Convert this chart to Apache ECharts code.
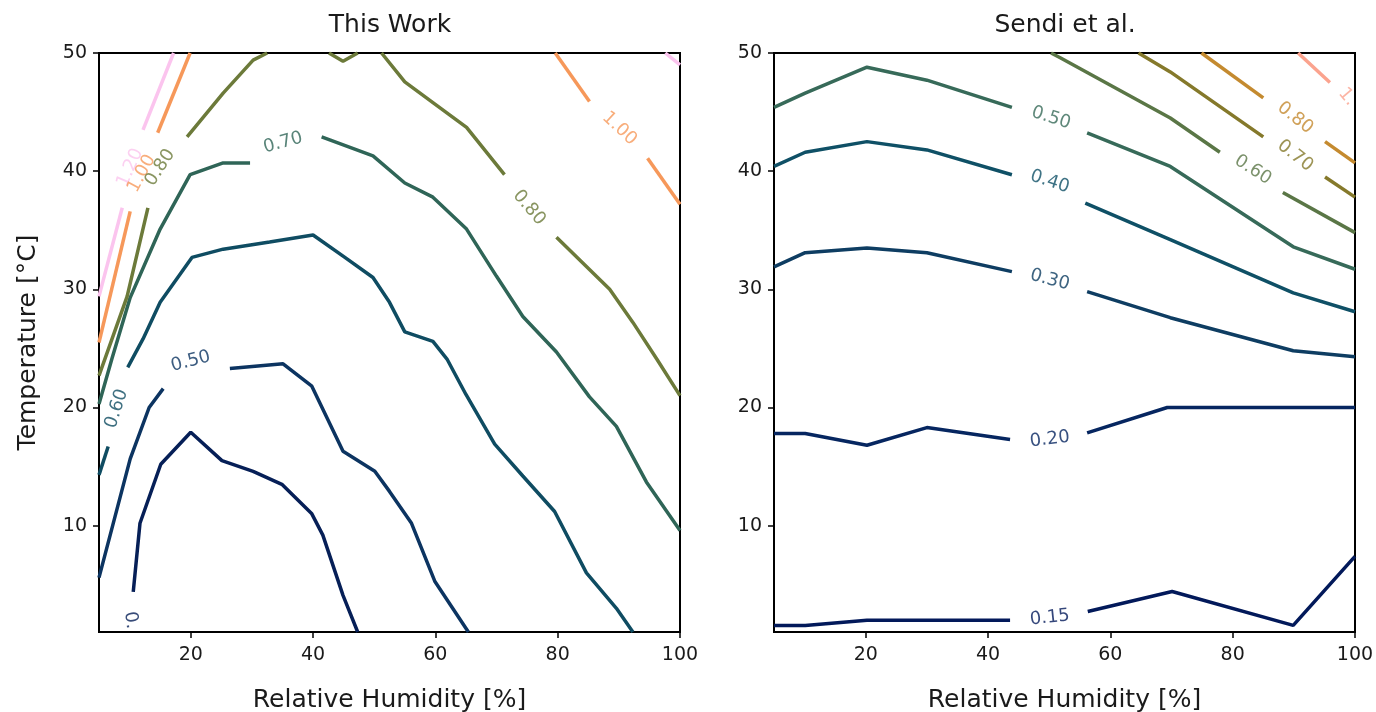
<!DOCTYPE html>
<html><head><meta charset="utf-8">
<script src="https://cdn.jsdelivr.net/npm/echarts@6/dist/echarts.min.js"></script>
<style>html,body{margin:0;padding:0;background:#fff}#c{width:1376px;height:712px}</style>
</head><body><div id="c"></div>
<script>
// ---- axes ----
const xTicks = [20, 40, 60, 80, 100];
const yTicks = [10, 20, 30, 40, 50];
const titles = ['This Work', 'Sendi et al.'];

// ---- "This Work" contour segments ([RH %, T °C]) ----
const tw040 = [
  [[10.6,4.4],[11.7,10.2],[15.1,15.2],[20.0,17.9],[25.1,15.5],[30.2,14.6],[34.9,13.5],[39.8,11.0],[41.6,9.2],[44.9,4.1],[47.3,1.0]]
];
const tw050 = [
  [[5,5.6],[10.1,15.65],[13.2,20.0],[15.5,21.6]],
  [[26.4,23.3],[35.1,23.7],[39.8,21.8],[44.9,16.3],[50.1,14.6],[52.5,12.9],[56.1,10.2],[59.9,5.3],[65.4,1.0]]
];
const tw060 = [
  [[5,14.3],[6.5,16.7]],
  [[9.7,23.4],[12.2,25.8],[15.0,28.9],[20.2,32.7],[25.3,33.4],[32.9,34.0],[40.0,34.6],[45.2,32.7],[49.8,31.0],[52.5,28.9],[55.0,26.4],[59.6,25.6],[61.9,24.1],[65.0,21.1],[69.7,16.9],[74.3,14.2],[79.5,11.2],[84.7,6.0],[89.6,3.0],[92.3,1.0]]
];
const tw070 = [
  [[5,20.3],[7.1,24.1],[10.1,29.3],[15.0,35.1],[19.9,39.7],[25.3,40.7],[29.7,40.7]],
  [[41.4,42.9],[49.8,41.3],[55.0,39.0],[59.6,37.8],[65.1,35.1],[70.0,31.1],[74.3,27.7],[79.8,24.7],[85.2,20.9],[89.6,18.4],[94.5,13.7],[100,9.6]]
];
const tw080 = [
  [[5,22.7],[9.6,29.4],[13.0,36.9]],
  [[19.4,42.9],[25.3,46.6],[30.2,49.4],[32.5,50]],
  [[42.6,50],[44.9,49.3],[47.3,50]],
  [[51.2,50],[55.0,47.55],[59.6,45.8],[65.1,43.7],[71.3,39.7]],
  [[79.8,34.4],[88.5,30.0],[92.3,27.2],[96.2,24.1],[100,21.0]]
];
const tw100 = [
  [[5,25.5],[10.1,36.6]],
  [[14.6,43.25],[19.9,50]],
  [[79.6,50],[85.2,45.9]],
  [[94.7,41.1],[100,37.2]]
];
const tw120 = [
  [[5,29.4],[8.8,36.9]],
  [[12.2,43.5],[17.2,50]],
  [[97.6,50],[100,49.0]]
];

// ---- "Sendi et al." contour segments ----
const se015 = [
  [[5,1.56],[10.1,1.56],[20.2,2.0],[43.6,2.0]],
  [[56.3,2.74],[70.1,4.43],[89.9,1.56],[100,7.4]]
];
const se020 = [
  [[5,17.8],[10.1,17.8],[20.2,16.8],[30.0,18.3],[43.6,17.3]],
  [[56.2,17.85],[69.3,20.0],[100,20.0]]
];
const se030 = [
  [[5,31.9],[10.1,33.1],[20.2,33.5],[30.0,33.1],[43.9,31.5]],
  [[56.2,29.8],[69.8,27.6],[89.9,24.8],[100,24.3]]
];
const se040 = [
  [[5,40.4],[10.1,41.6],[20.2,42.5],[30.0,41.8],[43.9,39.7]],
  [[55.9,37.3],[69.8,34.2],[89.9,29.7],[100,28.1]]
];
const se050 = [
  [[5,45.4],[10.1,46.6],[20.2,48.8],[30.0,47.7],[43.9,45.4]],
  [[56.2,43.25],[69.8,40.4],[89.9,33.6],[100,31.7]]
];
const se060 = [
  [[50.3,50],[51.8,49.6],[69.8,44.5],[77.9,41.6]],
  [[88.2,38.2],[100,34.8]]
];
const se070 = [
  [[64.6,50],[69.8,48.4],[85.0,42.9]],
  [[95.1,39.5],[100,37.8]]
];
const se080 = [
  [[74.9,50],[85.0,46.2]],
  [[95.1,42.5],[100,40.7]]
];
const se100 = [
  [[90.7,50],[95.9,47.5]]
];

// ---- inline contour labels: [RH, T, text] ----
const twLabels = [
  [10.1,40.3,'1.20'],[12.0,39.8,'1.00'],[15.0,40.3,'0.80'],[35.1,42.4,'0.70'],
  [7.9,19.9,'0.60'],[20.0,23.9,'0.50'],[10.2,2.0,'0.'],[90.1,43.6,'1.00'],[75.3,36.9,'0.80']
];
const seLabels = [
  [50.3,44.5,'0.50'],[50.1,39.1,'0.40'],[50.1,30.8,'0.30'],[50.1,17.3,'0.20'],[50.1,2.2,'0.15'],
  [83.3,40.1,'0.60'],[90.2,41.3,'0.70'],[90.2,44.5,'0.80'],[98.7,46.3,'1.']
];

// ---- styles ----
const FONT = 'DejaVu Sans';
const twStyle = [
  [tw040,'#061f57'],[tw050,'#0c3461'],[tw060,'#0f4c62'],[tw070,'#2f6557'],
  [tw080,'#6c7a3a'],[tw100,'#f6985a'],[tw120,'#fbc4ee']
];
const seStyle = [
  [se015,'#02195a'],[se020,'#062660'],[se030,'#0e3d62'],[se040,'#0f5066'],[se050,'#376a59'],
  [se060,'#5a7646'],[se070,'#85792b'],[se080,'#c48a2f'],[se100,'#fba38e']
];
const twLabelStyle = [
  ['#fbc4ee',66],['#f6985a',62],['#6c7a3a',57],['#2f6557',15],
  ['#0f4c62',72],['#0c3461',15],['#061f57',-82],['#f6985a',-43],['#6c7a3a',-50]
];
const seLabelStyle = [
  ['#376a59',-18],['#0f5066',-18],['#0e3d62',-15],['#062660',7],['#02195a',6],
  ['#5a7646',-33],['#85792b',-38],['#c48a2f',-38],['#fba38e',-50]
];

const series = [];
function addContours(panel, styles) {
  styles.forEach(([segs, color]) => {
    segs.forEach(seg => series.push({
      type: 'line', xAxisIndex: panel, yAxisIndex: panel, data: seg,
      symbol: 'none', showSymbol: false, smooth: false, clip: true, silent: true,
      lineStyle: { color: color, width: 3.5 }, itemStyle: { color: color }, z: 2
    }));
  });
}
function addLabels(panel, labels, styles) {
  labels.forEach((l, i) => series.push({
    type: 'scatter', xAxisIndex: panel, yAxisIndex: panel, silent: true,
    symbolSize: 1, itemStyle: { color: 'rgba(0,0,0,0)' }, z: 5,
    data: [[l[0], l[1]]],
    label: { show: true, position: 'inside', formatter: l[2], rotate: styles[i][1],
      color: styles[i][0], fontSize: 18, fontFamily: FONT }
  }));
}
addContours(0, twStyle); addContours(1, seStyle);
addLabels(0, twLabels, twLabelStyle); addLabels(1, seLabels, seLabelStyle);

function xAxis(i) {
  return { type: 'value', gridIndex: i, min: 5, max: 100,
    name: 'Relative Humidity [%]', nameLocation: 'middle', nameGap: 56,
    nameTextStyle: { fontSize: 25, color: '#1a1a1a', fontFamily: FONT },
    axisLine: { show: false }, splitLine: { show: false },
    axisTick: { show: true, length: 6, customValues: xTicks, lineStyle: { color: '#000', width: 1.5 } },
    axisLabel: { customValues: xTicks, fontSize: 19, color: '#1a1a1a', fontFamily: FONT, margin: 14 } };
}
function yAxis(i) {
  return { type: 'value', gridIndex: i, min: 1, max: 50,
    name: i === 0 ? 'Temperature [°C]' : '', nameLocation: 'middle', nameGap: 58, nameRotate: 90,
    nameTextStyle: { fontSize: 25, color: '#1a1a1a', fontFamily: FONT },
    axisLine: { show: false }, splitLine: { show: false },
    axisTick: { show: true, length: 6, customValues: yTicks, lineStyle: { color: '#000', width: 1.5 } },
    axisLabel: { customValues: yTicks, fontSize: 19, color: '#1a1a1a', fontFamily: FONT, margin: 12 } };
}

const chart = echarts.init(document.getElementById('c'), null, { renderer: 'canvas' });
chart.setOption({
  animation: false,
  backgroundColor: '#fff',
  grid: [
    { left: 99, top: 53, width: 581, height: 579, show: true, borderColor: '#000', borderWidth: 2, backgroundColor: 'transparent', outerBoundsMode: 'none', containLabel: false },
    { left: 774, top: 53, width: 581, height: 579, show: true, borderColor: '#000', borderWidth: 2, backgroundColor: 'transparent', outerBoundsMode: 'none', containLabel: false }
  ],
  xAxis: [xAxis(0), xAxis(1)],
  yAxis: [yAxis(0), yAxis(1)],
  graphic: [
    { type: 'text', x: 390, y: 25, style: { text: titles[0], align: 'center', verticalAlign: 'middle', font: '25px "DejaVu Sans"', fill: '#1a1a1a' } },
    { type: 'text', x: 1065, y: 25, style: { text: titles[1], align: 'center', verticalAlign: 'middle', font: '25px "DejaVu Sans"', fill: '#1a1a1a' } }
  ],
  series: series
});
</script></body></html>
